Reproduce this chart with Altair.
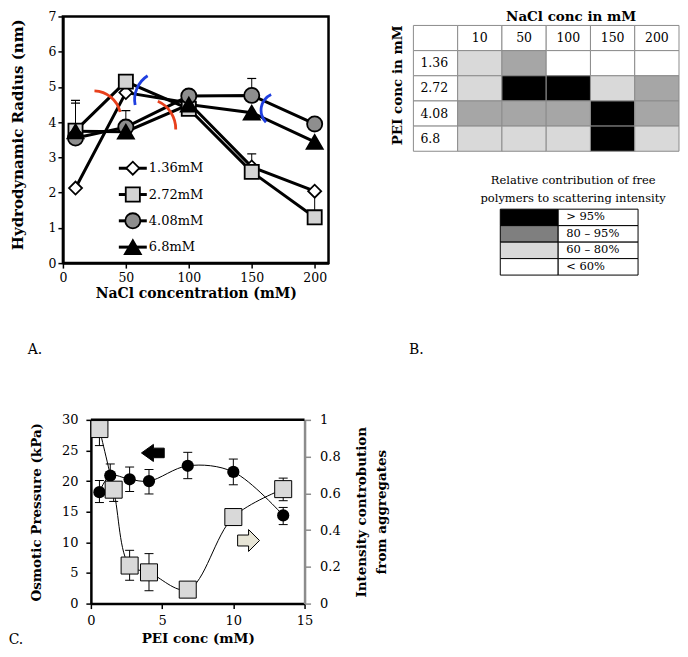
import altair as alt
import pandas as pd

FONT = "DejaVu Serif"

# ---------------- Panel A data ----------------
nacl = [10, 50, 100, 150, 200]
nacl_ticks = [0, 50, 100, 150, 200]
series_names = ["1.36mM", "2.72mM", "4.08mM", "6.8mM"]
radius_136 = [2.13, 4.84, 4.55, 2.73, 2.04]
radius_272 = [3.76, 5.15, 4.38, 2.59, 1.30]
radius_408 = [3.55, 3.86, 4.74, 4.76, 3.95]
radius_68 = [3.74, 3.73, 4.50, 4.27, 3.44]

err_series = ["2.72mM", "6.8mM", "4.08mM", "4.08mM", "1.36mM", "1.36mM"]
err_nacl = [10, 10, 50, 150, 150, 200]
err_from = [3.76, 3.74, 3.86, 4.76, 2.73, 2.04]
err_to = [4.62, 4.54, 4.33, 5.24, 3.10, 1.40]

# annotation arcs (centres in data units)
arc_nacl = [24.2, 65.6, 79.5, 171.2]
arc_radius = [4.11, 3.81, 4.64, 4.34]

# ---------------- Panel B data ----------------
b_rows = ["1.36", "2.72", "4.08", "6.8"]
b_cols = ["10", "50", "100", "150", "200"]
legend_labels = ["> 95%", "80 – 95%", "60 – 80%", "< 60%"]
b_cells = [
    ["60 – 80%", "80 – 95%", "< 60%", "< 60%", "< 60%"],
    ["60 – 80%", "> 95%", "> 95%", "60 – 80%", "80 – 95%"],
    ["80 – 95%", "80 – 95%", "80 – 95%", "> 95%", "80 – 95%"],
    ["60 – 80%", "60 – 80%", "60 – 80%", "> 95%", "60 – 80%"],
]

# ---------------- Panel C data ----------------
pei_op = [0.6, 1.36, 2.72, 4.08, 6.8, 10.0, 13.5]
osm = [18.2, 20.9, 20.3, 20.0, 22.5, 21.5, 14.4]
osm_lo = [16.5, 19.0, 18.3, 17.9, 20.4, 19.4, 12.9]
osm_hi = [20.1, 22.8, 22.3, 21.9, 24.7, 23.6, 15.7]
pei_int = [0.6, 1.6, 2.72, 4.08, 6.8, 10.0, 13.5]
inten = [0.95, 0.62, 0.207, 0.17, 0.076, 0.471, 0.623]
inten_lo = [0.86, 0.556, 0.127, 0.07, 0.076, 0.426, 0.56]
inten_hi = [0.99, 0.62, 0.29, 0.272, 0.076, 0.515, 0.683]
arrow_pei = [4.35, 11.07]
arrow_osm = [24.6, 10.3]

# =====================================================================
# Panel A
# =====================================================================
A_W, A_H = 266, 247
axA_x = alt.Axis(values=nacl_ticks, title="NaCl concentration (mM)", titleFontSize=14,
                 titleFontWeight="bold", titleX=133, titleY=30, titleAlign="center",
                 titleBaseline="middle", labelFontSize=12.5, labelPadding=3, tickSize=5,
                 tickWidth=1.5, tickColor="black", domainColor="black", domainWidth=2.5)
axA_y = alt.Axis(values=list(range(8)), title="Hydrodynamic Radius (nm)", titleFontSize=15,
                 titleFontWeight="bold", titleX=-45, titleY=118, titleAngle=270,
                 titleAlign="center", titleBaseline="middle", labelFontSize=12.5,
                 labelPadding=2, tickSize=5, tickWidth=1.5, tickColor="black",
                 domainColor="black", domainWidth=2.5)
scA_x = alt.Scale(domain=[0, 211], nice=False, zero=False)
scA_y = alt.Scale(domain=[0, 7], nice=False)
xA = alt.X("nacl:Q", scale=scA_x, axis=axA_x)
yA = alt.Y("radius:Q", scale=scA_y, axis=axA_y)
shapeA = alt.Shape("series:N", scale=alt.Scale(domain=series_names,
                   range=["diamond", "square", "circle", "triangle-up"]), legend=None)
fillA = alt.Fill("series:N", scale=alt.Scale(domain=series_names,
                 range=["white", "#d3d3d3", "#8e8e8e", "black"]), legend=None)
sizeA = alt.Size("series:O", scale=alt.Scale(domain=series_names,
                 range=[170, 260, 220, 200]), legend=None)

dfA = pd.DataFrame({
    "nacl": nacl * 4,
    "series": [s for s in series_names for _ in nacl],
    "radius": radius_136 + radius_272 + radius_408 + radius_68,
})
dfErr = pd.DataFrame({"nacl": err_nacl, "radius": err_from, "radius_to": err_to, "series": err_series})
dfCap = pd.DataFrame({"nacl": err_nacl, "radius": err_to})

errRule = alt.Chart(dfErr).mark_rule(color="black", strokeWidth=1).encode(x=xA, y=yA, y2="radius_to:Q")
errCap = alt.Chart(dfCap).mark_tick(orient="horizontal", color="black", thickness=1.2, size=9,
                                     opacity=1).encode(x=xA, y=yA)
linesA = alt.Chart(dfA).mark_line(color="black", strokeWidth=3).encode(x=xA, y=yA, detail="series:N")
ptsA = alt.Chart(dfA).mark_point(filled=True, stroke="black", strokeWidth=1.8, opacity=1,
                                 fillOpacity=1).encode(x=xA, y=yA, shape=shapeA, fill=fillA, size=sizeA)

arc_styles = [
    (0.04, 1.34, 27.5, "#e8401c"),
    (0.42, 1.59, 30.3, "#e8401c"),
    (4.52, 5.71, 28.4, "#1f3fe0"),
    (3.94, 5.85, 17.4, "#1f3fe0"),
]
arcs = []
for i, (t1, t2, r, c) in enumerate(arc_styles):
    dfa = pd.DataFrame({"nacl": [arc_nacl[i]], "radius": [arc_radius[i]]})
    arcs.append(alt.Chart(dfa).mark_arc(theta=t1, theta2=t2, radius=r + 1.4, radius2=r - 1.4,
                                         color=c).encode(x=xA, y=yA))

mainA = alt.layer(errRule, errCap, linesA, ptsA, *arcs)

dfLeg = pd.DataFrame({"series": series_names})
yLegA = alt.Y("series:N", scale=alt.Scale(type="point", domain=series_names, range=[152, 231],
                                          padding=0), axis=None)
legRule = alt.Chart(dfLeg).mark_rule(color="black", strokeWidth=3).encode(
    x=alt.value(56), x2=alt.value(84), y=yLegA)
legPts = alt.Chart(dfLeg).mark_point(filled=True, stroke="black", strokeWidth=1.8, opacity=1,
                                     fillOpacity=1).encode(
    x=alt.value(70), y=yLegA, shape=shapeA, fill=fillA, size=sizeA)
legTxt = alt.Chart(dfLeg).mark_text(align="left", baseline="middle", font=FONT, fontSize=13,
                                    color="black").encode(x=alt.value(86), y=yLegA, text="series:N")
labA = alt.Chart(pd.DataFrame({"t": ["A."]})).mark_text(font=FONT, fontSize=14, color="black").encode(
    x=alt.value(-28), y=alt.value(334), text="t:N")

chartA = alt.layer(mainA, alt.layer(legRule, legPts, legTxt, labA)).resolve_scale(
    y="independent").properties(width=A_W, height=A_H,
                                view=alt.ViewBackground(stroke="black", strokeWidth=2.5))

# =====================================================================
# Panel B
# =====================================================================
B_W = 266
row_keys = ["hdr"] + b_rows
col_keys = ["lab"] + b_cols
recs = []
for r in row_keys:
    for c in col_keys:
        if r == "hdr" or c == "lab":
            cat = "none"
        else:
            cat = b_cells[b_rows.index(r)][b_cols.index(c)]
        recs.append({"row": r, "col": c, "cat": cat})
dfT = pd.DataFrame(recs)
dfHdr = pd.DataFrame({"row": ["hdr"] * len(b_cols), "col": b_cols})
dfRowLab = pd.DataFrame({"row": b_rows, "col": ["lab"] * len(b_rows)})

scT_x = alt.Scale(domain=col_keys, range=[0, B_W], paddingInner=0, paddingOuter=0)
scT_y = alt.Scale(domain=row_keys, range=[9, 135], paddingInner=0, paddingOuter=0)

tRect = alt.Chart(dfT).mark_rect(stroke="#8c8c8c", strokeWidth=1).encode(
    x=alt.X("col:N", scale=scT_x, axis=None),
    y=alt.Y("row:N", scale=scT_y, axis=None),
    fill=alt.Fill("cat:N", scale=alt.Scale(domain=legend_labels + ["none"],
                  range=["black", "#a6a6a6", "#d9d9d9", "white", "white"]), legend=None),
)
tHdr = alt.Chart(dfHdr).mark_text(font=FONT, fontSize=12.5, color="black", baseline="middle").encode(
    x=alt.X("col:N", scale=scT_x, axis=None),
    y=alt.Y("row:N", scale=scT_y, axis=None),
    text="col:N",
)
tRowLab = alt.Chart(dfRowLab).mark_text(font=FONT, fontSize=12.5, color="black", align="left",
                                         baseline="middle", dx=7).encode(
    x=alt.X("col:N", scale=scT_x, axis=None, bandPosition=0),
    y=alt.Y("row:N", scale=scT_y, axis=None),
    text="row:N",
)
tableB = alt.layer(tRect, tHdr, tRowLab)

dfLegB = pd.DataFrame({"label": legend_labels})
yLegB = alt.Y("label:N", scale=alt.Scale(domain=legend_labels, range=[193, 259], paddingInner=0,
                                         paddingOuter=0), axis=None)
legSw = alt.Chart(dfLegB).mark_rect(stroke="black", strokeWidth=1).encode(
    x=alt.value(87), x2=alt.value(145), y=yLegB,
    fill=alt.Fill("label:N", scale=alt.Scale(domain=legend_labels,
                  range=["black", "#7f7f7f", "#d9d9d9", "white"]), legend=None),
)
legCell = alt.Chart(dfLegB).mark_rect(stroke="black", strokeWidth=1, fill="white").encode(
    x=alt.value(145), x2=alt.value(225), y=yLegB)
legLab = alt.Chart(dfLegB).mark_text(font=FONT, fontSize=11.5, color="black", align="left",
                                     baseline="middle").encode(x=alt.value(153), y=yLegB, text="label:N")
one = pd.DataFrame({"k": [0]})
tTop = alt.Chart(one).mark_text(text="NaCl conc in mM", font=FONT, fontSize=13.5, fontWeight="bold",
                                color="black").encode(x=alt.value(158), y=alt.value(1))
tSide = alt.Chart(one).mark_text(text="PEI conc in mM", font=FONT, fontSize=13.5, fontWeight="bold",
                                 color="black", angle=270).encode(x=alt.value(-15), y=alt.value(69))
tLegTitle = alt.Chart(one).mark_text(text=["Relative contribution of free",
                                           "polymers to scattering intensity"],
                                     font=FONT, fontSize=11.5, color="black", lineHeight=18,
                                     baseline="middle").encode(x=alt.value(160), y=alt.value(165))
labB = alt.Chart(pd.DataFrame({"t": ["B."]})).mark_text(font=FONT, fontSize=14, color="black").encode(
    x=alt.value(3), y=alt.value(334), text="t:N")
legendB = alt.layer(legSw, legCell, legLab, tTop, tSide, tLegTitle, labB)

chartB = alt.layer(tableB, legendB).resolve_scale(y="independent", fill="independent").properties(
    width=B_W, height=259)

# =====================================================================
# Panel C  (view starts at A's left edge; plot is shifted right by C_OFF)
# =====================================================================
C_OFF, C_W, C_H = 28, 214, 184
axC_x = alt.Axis(values=[0, 5, 10, 15], title="PEI conc (mM)", titleFontSize=13.5,
                 titleFontWeight="bold", titleX=C_OFF + 107, titleY=35, titleAlign="center",
                 titleBaseline="middle", labelFontSize=13, labelPadding=6, tickSize=5,
                 tickWidth=1.5, tickColor="black", domainColor="black", domainWidth=2.5)
axC_l = alt.Axis(values=[0, 5, 10, 15, 20, 25, 30], title="Osmotic Pressure (kPa)", titleFontSize=13.5,
                 titleFontWeight="bold", titleX=-54, titleY=92, titleAngle=270, titleAlign="center",
                 titleBaseline="middle", labelFontSize=13, labelPadding=8, tickSize=5, tickWidth=1.5,
                 tickColor="black", domainColor="black", domainWidth=2.5, orient="left",
                 offset=-C_OFF)
axC_r = alt.Axis(values=[0, 0.2, 0.4, 0.6, 0.8, 1], format="~g",
                 title=["Intensity controbution", "from aggregates"], titleFontSize=13.5,
                 titleFontWeight="bold", titleX=57, titleY=92, titleAngle=270, titleAlign="center",
                 titleBaseline="middle", titleLineHeight=20, labelFontSize=13, labelPadding=9,
                 tickSize=6, tickWidth=1.5, tickColor="#8c8c8c", domainColor="#8c8c8c",
                 domainWidth=2.5, orient="right")
scC_x = alt.Scale(domain=[0, 15], nice=False, range=[C_OFF, C_OFF + C_W])
scC_l = alt.Scale(domain=[0, 30], nice=False)
scC_r = alt.Scale(domain=[0, 1], nice=False)
xC = alt.X("pei:Q", scale=scC_x, axis=axC_x)

dfOP = pd.DataFrame({"pei": pei_op, "osm": osm, "lo": osm_lo, "hi": osm_hi})
dfIN = pd.DataFrame({"pei": pei_int, "inten": inten, "lo": inten_lo, "hi": inten_hi})

yL = alt.Y("osm:Q", scale=scC_l, axis=axC_l)
lineL = alt.Chart(dfOP).mark_line(interpolate="catmull-rom", color="black", strokeWidth=1).encode(x=xC, y=yL)
ruleL = alt.Chart(dfOP).mark_rule(color="black", strokeWidth=1).encode(
    x=xC, y=alt.Y("lo:Q", scale=scC_l, axis=axC_l), y2="hi:Q")
capL1 = alt.Chart(dfOP).mark_tick(orient="horizontal", color="black", thickness=1, size=9, opacity=1).encode(
    x=xC, y=alt.Y("lo:Q", scale=scC_l, axis=axC_l))
capL2 = alt.Chart(dfOP).mark_tick(orient="horizontal", color="black", thickness=1, size=9, opacity=1).encode(
    x=xC, y=alt.Y("hi:Q", scale=scC_l, axis=axC_l))
ptsL = alt.Chart(dfOP).mark_circle(color="black", size=150, opacity=1).encode(x=xC, y=yL)

left_arrow = "M -1 0 L 0.05 -0.75 L 0.05 -0.42 L 1 -0.42 L 1 0.42 L 0.05 0.42 L 0.05 0.75 Z"
right_arrow = "M 1 0 L 0 -1 L 0 -0.5 L -1 -0.5 L -1 0.5 L 0 0.5 L 0 1 Z"
arrL = alt.Chart(pd.DataFrame({"pei": [arrow_pei[0]], "osm": [arrow_osm[0]]})).mark_point(
    shape=left_arrow, filled=True, fill="black", stroke="black", strokeWidth=1, size=520,
    opacity=1).encode(x=xC, y=yL)
arrR = alt.Chart(pd.DataFrame({"pei": [arrow_pei[1]], "osm": [arrow_osm[1]]})).mark_point(
    shape=right_arrow, filled=True, fill="#e7e5d6", stroke="black", strokeWidth=1, size=480,
    opacity=1).encode(x=xC, y=yL)
topBorder = alt.Chart(one).mark_rule(color="black", strokeWidth=2.5).encode(
    x=alt.value(C_OFF), x2=alt.value(C_OFF + C_W), y=alt.value(0))
labC = alt.Chart(pd.DataFrame({"t": ["C."]})).mark_text(font=FONT, fontSize=14, color="black").encode(
    x=alt.value(-47), y=alt.value(220), text="t:N")
leftC = alt.layer(lineL, ruleL, capL1, capL2, ptsL, arrL, arrR, topBorder, labC)

yR = alt.Y("inten:Q", scale=scC_r, axis=axC_r)
lineR = alt.Chart(dfIN).mark_line(interpolate="catmull-rom", color="black", strokeWidth=1).encode(x=xC, y=yR)
ruleR = alt.Chart(dfIN).mark_rule(color="black", strokeWidth=1).encode(
    x=xC, y=alt.Y("lo:Q", scale=scC_r, axis=axC_r), y2="hi:Q")
capR1 = alt.Chart(dfIN).mark_tick(orient="horizontal", color="black", thickness=1, size=9, opacity=1).encode(
    x=xC, y=alt.Y("lo:Q", scale=scC_r, axis=axC_r))
capR2 = alt.Chart(dfIN).mark_tick(orient="horizontal", color="black", thickness=1, size=9, opacity=1).encode(
    x=xC, y=alt.Y("hi:Q", scale=scC_r, axis=axC_r))
ptsR = alt.Chart(dfIN).mark_point(shape="square", filled=True, fill="#d9d9d9", stroke="black",
                                  strokeWidth=1, size=290, opacity=1).encode(x=xC, y=yR)
rightC = alt.layer(lineR, ruleR, capR1, capR2, ptsR)

chartC = alt.layer(leftC, rightC).resolve_scale(y="independent").properties(
    width=C_OFF + C_W, height=C_H)

# =====================================================================
chart = alt.concat(chartA, chartB, chartC, columns=2, bounds="flush",
                   spacing=alt.RowColnumber(row=145, column=85)).properties(
    padding={"left": 0, "top": 0, "right": 0, "bottom": 0}).configure_view(
    stroke="transparent").configure_axis(
    labelFont=FONT, titleFont=FONT, labelColor="black", titleColor="black", grid=False,
    labelFlush=False, labelOverlap=False)

chart.save("out.html", embed_options={"renderer": "svg", "actions": False})
